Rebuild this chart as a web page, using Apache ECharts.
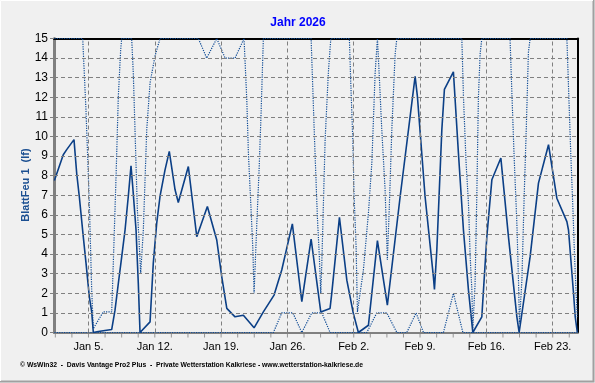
<!DOCTYPE html>
<html><head><meta charset="utf-8">
<script src="https://cdn.jsdelivr.net/npm/echarts@6/dist/echarts.min.js"></script>
<style>html,body{margin:0;padding:0;background:#f0f0f0}#c{width:595px;height:383px}</style>
</head><body><div id="c"></div>
<script>
// x values are days since 1 Jan 2026 00:00
const meanDays = [0.4, 1.34, 1.70, 2.47, 2.76, 3.03, 3.45, 3.74, 4.09, 4.34, 4.51, 5.04, 5.74, 6.45, 6.80, 7.15, 7.51, 7.86, 8.20, 8.49, 8.67, 9.02, 9.26, 9.44, 10.50, 10.84, 11.20, 11.55, 12.08, 12.53, 13.14, 13.48, 14.54, 15.43, 16.55, 17.54, 18.07, 18.60, 19.47, 20.35, 21.48, 22.46, 23.59, 24.40, 25.52, 26.52, 27.50, 28.52, 29.50, 29.68, 30.49, 31.27, 31.96, 32.49, 33.55, 34.50, 35.55, 36.90, 38.48, 38.72, 39.53, 40.41, 40.52, 40.77, 41.30, 41.57, 42.52, 43.05, 43.58, 44.11, 44.57, 45.52, 46.05, 46.58, 47.53, 48.33, 49.22, 49.46, 50.62, 51.50, 52.56, 53.44, 54.50, 54.67, 55.20, 55.38, 55.60];
const meanValues = [7.75, 9.07, 9.33, 9.84, 8.1, 6.94, 4.89, 3.54, 1.82, 1.05, 0, 0.05, 0.1, 0.15, 1.14, 2.5, 3.87, 5.23, 6.94, 8.5, 7.45, 5.23, 2.5, 0, 0.54, 3.53, 5.57, 6.94, 8.3, 9.24, 7.28, 6.63, 8.47, 4.89, 6.43, 4.72, 2.84, 1.23, 0.8, 0.88, 0.24, 1.05, 1.91, 3.19, 5.54, 1.57, 4.77, 1.05, 1.23, 2.0, 5.88, 2.67, 0.97, 0, 0.37, 4.69, 1.4, 6.94, 13.07, 12.05, 6.94, 2.84, 2.2, 4.2, 10.35, 12.4, 13.3, 9.16, 5.23, 2.16, 0, 0.8, 4.89, 7.79, 8.9, 4.89, 0.8, 0, 3.87, 7.62, 9.58, 6.85, 5.66, 5.23, 2.0, 0.8, 0];

const maxDays = [0.4, 3.39, 3.74, 4.09, 4.34, 4.51, 5.56, 6.45, 6.62, 6.91, 7.15, 7.40, 7.51, 8.56, 8.73, 8.91, 9.16, 9.37, 9.51, 9.79, 10.15, 10.50, 11.02, 11.55, 15.60, 16.48, 17.54, 18.42, 19.47, 20.42, 20.71, 20.88, 21.13, 21.34, 21.48, 21.77, 22.01, 22.22, 22.46, 27.50, 27.85, 28.16, 28.37, 28.52, 28.63, 28.80, 28.98, 29.32, 29.58, 31.54, 31.69, 31.90, 32.04, 32.25, 32.39, 32.60, 33.02, 33.55, 33.91, 34.26, 34.50, 34.68, 34.96, 35.31, 35.55, 35.77, 36.02, 36.37, 36.55, 43.41, 43.58, 43.86, 44.11, 44.29, 44.47, 44.57, 44.81, 44.99, 45.16, 45.34, 45.52, 48.50, 48.68, 48.93, 49.22, 49.39, 49.49, 49.75, 49.99, 50.21, 50.44, 50.62, 54.50, 54.68, 54.92, 55.14, 55.31, 55.49, 55.60];
const maxValues = [15, 15, 11.28, 6.6, 2.16, 0.2, 1.05, 1.05, 3.53, 7.96, 12.05, 14.44, 15, 15, 13.25, 10.35, 6.26, 4.38, 3.02, 5.23, 10.35, 12.74, 14.1, 15, 15, 14, 15, 14, 14, 15, 11.88, 9.16, 6.6, 4.38, 2.0, 5.57, 8.3, 11.2, 15, 15, 10.0, 5.91, 3.87, 2.0, 3.53, 6.6, 9.84, 13.25, 15, 15, 12.7, 9.84, 6.94, 4.38, 1.05, 1.05, 3.19, 6.09, 8.64, 13.25, 15, 13.25, 10.35, 7.28, 3.7, 6.6, 10.35, 14.2, 15, 15, 12.05, 8.64, 6.6, 3.87, 2.16, 0.2, 2.5, 6.94, 12, 14.2, 15, 15, 12.4, 8.98, 5.57, 2.67, 0.46, 2.67, 6.94, 10.35, 14.3, 15, 15, 12.4, 8.98, 6.26, 3.87, 1.82, 0.8];

const minDays = [0.4, 23.52, 24.40, 25.57, 26.52, 27.57, 28.63, 29.50, 33.38, 34.43, 35.49, 36.55, 37.60, 38.58, 39.36, 41.47, 42.52, 43.52, 55.60];
const minValues = [0, 0, 1, 1, 0, 1, 1, 0, 0, 1, 1, 0, 0, 1, 0, 0, 2, 0, 0];

const weekTickDays = [4, 11, 18, 25, 32, 39, 46, 53];
const weekTickLabels = ['Jan 5.', 'Jan 12.', 'Jan 19.', 'Jan 26.', 'Feb 2.', 'Feb 9.', 'Feb 16.', 'Feb 23.'];
const minorTickDays = [0.5, 2.25, 4, 5.75, 7.5, 9.25, 11, 12.75, 14.5, 16.25, 18, 19.75, 21.5, 23.25, 25, 26.75, 28.5, 30.25, 32, 33.75, 35.5, 37.25, 39, 40.75, 42.5, 44.25, 46, 47.75, 49.5, 51.25, 53, 54.75];
const yGridValues = [1, 2, 3, 4, 5, 6, 7, 8, 9, 10, 11, 12, 13, 14];

const X_MIN = 0.36, X_MAX = 55.62;
const titleText = 'Jahr 2026';
const yName = 'BlattFeu 1  (lf)';
const footerText = '\u00a9 WsWin32  -  Davis Vantage Pro2 Plus  -  Private Wetterstation Kalkriese - www.wetterstation-kalkriese.de';

const zip = (a, b) => a.map((d, i) => [d, b[i]]);
const FONT = '"Liberation Sans", Arial, sans-serif';
const GRID_GRAY = '#808080';
const DOT_STYLE = {color: '#0d4a95', width: 1.2, type: [1.2, 1.2]};

const chart = echarts.init(document.getElementById('c'), null, {renderer: 'canvas'});
chart.setOption({
  backgroundColor: '#f0f0f0',
  animation: false,
  grid: {left: 54, right: 17.5, top: 38.5, bottom: 50.5, containLabel: false},
  xAxis: [
    {
      type: 'value', min: X_MIN, max: X_MAX, position: 'bottom',
      axisLine: {show: true, onZero: false, lineStyle: {color: GRID_GRAY, width: 2}},
      axisTick: {show: false},
      axisLabel: {
        customValues: weekTickDays, color: '#000', fontSize: 11, fontFamily: FONT, margin: 9,
        formatter: v => weekTickLabels[weekTickDays.indexOf(Math.round(v))] || ''
      },
      splitLine: {show: false}
    },
    {
      type: 'value', min: X_MIN, max: X_MAX, position: 'top',
      axisLine: {show: true, onZero: false, lineStyle: {color: '#000', width: 2}},
      axisTick: {show: false}, axisLabel: {show: false}, splitLine: {show: false}
    }
  ],
  yAxis: [
    {
      type: 'value', min: 0, max: 15, interval: 1,
      axisLine: {show: true, onZero: false, lineStyle: {color: GRID_GRAY, width: 3}},
      axisTick: {show: true, length: 4, lineStyle: {color: GRID_GRAY, width: 1}},
      axisLabel: {color: '#000', fontSize: 12, fontFamily: FONT, margin: 6},
      splitLine: {show: false}
    },
    {
      type: 'value', min: 0, max: 15, position: 'right',
      axisLine: {show: true, onZero: false, lineStyle: {color: '#000', width: 2}},
      axisTick: {show: false}, axisLabel: {show: false}, splitLine: {show: false}
    }
  ],
  series: [
    {
      name: 'gridLines', type: 'line', xAxisIndex: 0, yAxisIndex: 0, data: [], z: 1, silent: true,
      markLine: {
        silent: true, symbol: ['none', 'none'], label: {show: false}, animation: false,
        lineStyle: {color: GRID_GRAY, width: 1, type: [4, 3]},
        emphasis: {disabled: true},
        data: weekTickDays.map(d => ({xAxis: d})).concat(yGridValues.map(v => ({yAxis: v})))
      }
    },
    {
      name: 'minorTicks', type: 'scatter', xAxisIndex: 0, yAxisIndex: 0, silent: true, clip: false, z: 1,
      data: minorTickDays.map(d => [d, 0]),
      symbol: 'rect', symbolSize: [1, 4], symbolOffset: [0, 3],
      itemStyle: {color: GRID_GRAY}
    },
    {
      name: 'max', type: 'line', xAxisIndex: 0, yAxisIndex: 0, data: zip(maxDays, maxValues),
      symbol: 'none', z: 3, lineStyle: DOT_STYLE
    },
    {
      name: 'min', type: 'line', xAxisIndex: 0, yAxisIndex: 0, data: zip(minDays, minValues),
      symbol: 'none', z: 3, lineStyle: DOT_STYLE
    },
    {
      name: 'BlattFeu 1', type: 'line', xAxisIndex: 0, yAxisIndex: 0, data: zip(meanDays, meanValues),
      symbol: 'none', z: 4,
      lineStyle: {color: '#0b3f86', width: 1.6}
    }
  ],
  graphic: [
    {type: 'text', x: 298, y: 23, style: {text: titleText, font: 'bold 12px ' + FONT, fill: '#0000ff', align: 'center', verticalAlign: 'middle'}},
    {type: 'text', x: 26, y: 185, rotation: Math.PI / 2, style: {text: yName, font: 'bold 11px ' + FONT, fill: '#1b4f91', align: 'center', verticalAlign: 'middle'}},
    {type: 'text', x: 20, y: 365, style: {text: footerText, font: 'bold 6.8px ' + FONT, fill: '#000', align: 'left', verticalAlign: 'middle'}},
    {type: 'polyline', shape: {points: [[0, 381.5], [593.5, 381.5], [593.5, 0]]}, style: {stroke: '#a0a0a0', lineWidth: 2, fill: null}},
    {type: 'polyline', shape: {points: [[0.5, 381], [0.5, 0.5], [593, 0.5]]}, style: {stroke: '#ffffff', lineWidth: 1, fill: null}}
  ]
});
</script>
</body></html>
